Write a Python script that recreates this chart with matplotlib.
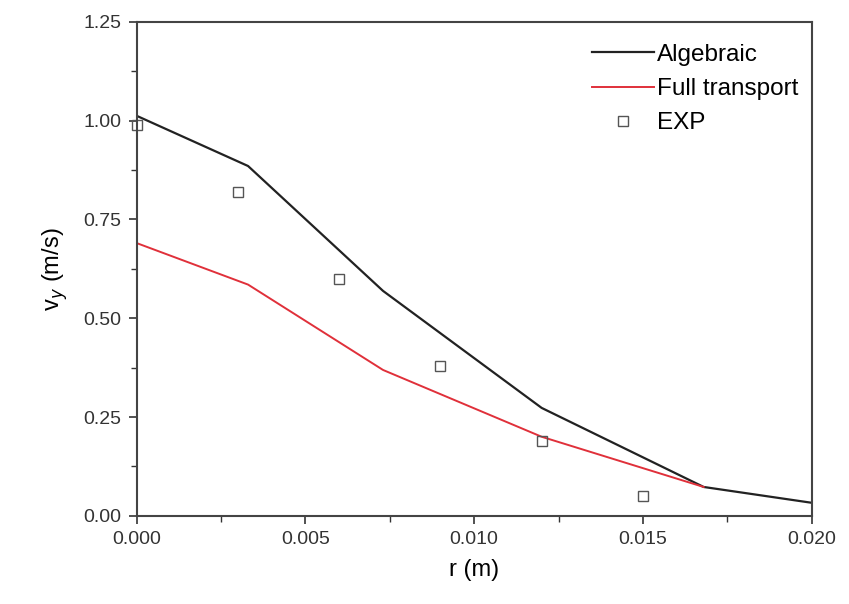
import numpy as np
import matplotlib
matplotlib.use("Agg")
import matplotlib.pyplot as plt
from matplotlib.ticker import MultipleLocator, FormatStrFormatter

plt.rcParams['font.family'] = ['Liberation Sans', 'DejaVu Sans']

# data
r_alg = [0.0, 0.0033, 0.0073, 0.0120, 0.0168, 0.0200]
v_alg = [1.012, 0.885, 0.569, 0.273, 0.073, 0.033]

r_full = [0.0, 0.0033, 0.0073, 0.0120, 0.0168]
v_full = [0.690, 0.585, 0.369, 0.200, 0.073]

r_exp = [0.0, 0.003, 0.006, 0.009, 0.012, 0.015]
v_exp = [0.99, 0.82, 0.60, 0.38, 0.19, 0.05]

fig = plt.figure(figsize=(8.49, 6.04), dpi=100)
ax = fig.add_axes([0.161, 0.146, 0.795, 0.818])

ax.plot(r_alg, v_alg, color='#222222', lw=1.6, label='Algebraic')
ax.plot(r_full, v_full, color='#e0303a', lw=1.4, label='Full transport')
ax.plot(r_exp, v_exp, ls='none', marker='s', ms=7.5, mfc='none', mec='#555555',
        mew=1.0, label='EXP', clip_on=False)

ax.set_xlim(0, 0.020)
ax.set_ylim(0, 1.25)
ax.xaxis.set_major_locator(MultipleLocator(0.005))
ax.xaxis.set_minor_locator(MultipleLocator(0.0025))
ax.yaxis.set_major_locator(MultipleLocator(0.25))
ax.yaxis.set_minor_locator(MultipleLocator(0.125))
ax.xaxis.set_major_formatter(FormatStrFormatter('%.3f'))
ax.yaxis.set_major_formatter(FormatStrFormatter('%.2f'))
ax.tick_params(which='both', direction='out', top=False, right=False,
               labelsize=14, colors='#333333')
ax.tick_params(which='major', length=6, width=1.2, pad=5)
ax.tick_params(which='minor', length=4, width=1.0)
for s in ax.spines.values():
    s.set_linewidth(1.5)
    s.set_color('#444444')

ax.set_xlabel('r (m)', fontsize=17, labelpad=8)
ax.set_ylabel('v$_y$ (m/s)', fontsize=17, labelpad=10)

ax.legend(loc='upper right', bbox_to_anchor=(0.98, 0.955), frameon=False,
          fontsize=17.5, handlelength=2.55, handletextpad=0.1, labelspacing=0.5,
          borderpad=0, borderaxespad=0)

fig.savefig('out.png', dpi=100)
